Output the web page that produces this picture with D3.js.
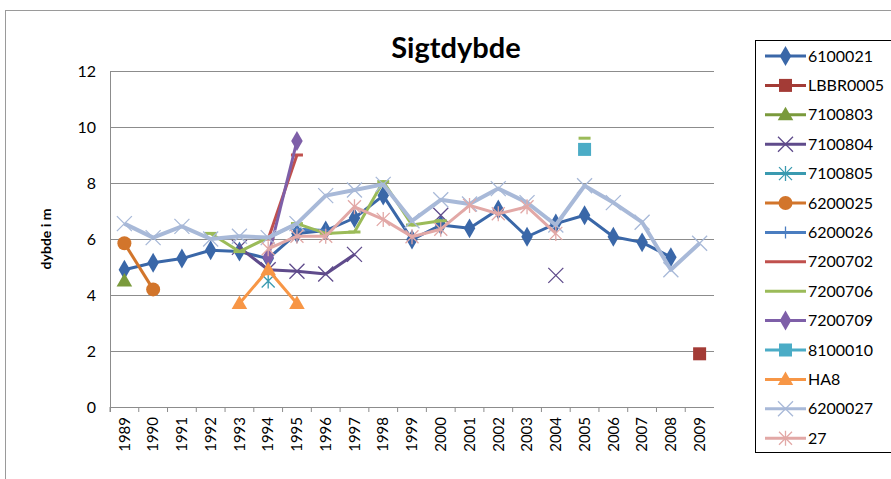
<!DOCTYPE html>
<html>
<head>
<meta charset="utf-8">
<script src="https://cdn.jsdelivr.net/npm/d3@7"></script>
<style>
  body { margin: 0; background: #fff; }
  text { font-family: Lato, "Open Sans", sans-serif; }
</style>
</head>
<body>
<div id="chart"></div>
<script>
// years on the x axis
var years = [1989, 1990, 1991, 1992, 1993, 1994, 1995, 1996, 1997, 1998, 1999,
             2000, 2001, 2002, 2003, 2004, 2005, 2006, 2007, 2008, 2009];
var yTicks = [0, 2, 4, 6, 8, 10, 12];

// one array per station, same order as years, null = no measurement
var s6100021 = [4.9, 5.15, 5.3, 5.6, 5.55, 5.3, 6.2, 6.3, 6.75, 7.55, 5.98, 6.5, 6.38, 7.05, 6.08, 6.55, 6.85, 6.08, 5.88, 5.35, null];
var sLBBR0005 = [null, null, null, null, null, null, null, null, null, null, null, null, null, null, null, null, null, null, null, null, 1.9];
var s7100803 = [4.5, null, null, null, null, null, null, null, null, null, null, null, null, null, null, null, null, null, null, null, null];
var s7100804 = [null, null, null, null, 5.7, 4.9, 4.85, 4.75, 5.45, null, null, 6.85, null, null, null, 4.7, null, null, null, null, null];
var s7100805 = [null, null, null, null, null, 4.5, null, null, null, null, null, null, null, null, null, null, null, null, null, null, null];
var s6200025 = [5.85, 4.2, null, null, null, null, null, null, null, null, null, null, null, null, null, null, null, null, null, null, null];
var s6200026 = [null, null, null, null, null, null, 6.35, 6.3, null, null, null, null, null, null, null, null, null, null, null, null, null];
var s7200702 = [null, null, null, null, null, 6.0, 9.0, null, null, null, null, null, null, null, null, null, null, null, null, null, null];
var s7200706 = [null, null, null, 6.2, 5.55, 6.05, 6.55, 6.2, 6.25, 8.05, 6.5, 6.65, null, null, null, null, 9.6, null, null, null, null];
var s7200709 = [null, null, null, null, null, 5.35, 9.5, null, null, null, null, null, null, null, null, null, null, null, null, null, null];
var s8100010 = [null, null, null, null, null, null, null, null, null, null, null, null, null, null, null, null, 9.2, null, null, null, null];
var sHA8 = [null, null, null, null, 3.7, 4.9, 3.7, null, null, null, null, null, null, null, null, null, null, null, null, null, null];
var s6200027 = [6.55, 6.05, 6.45, 6.0, 6.1, 6.05, 6.55, 7.55, 7.75, 7.95, 6.65, 7.4, 7.25, 7.8, 7.3, 6.5, 7.9, 7.3, 6.6, 4.9, 5.85];
var s27 = [null, null, null, null, null, 5.65, 6.1, 6.1, 7.15, 6.7, 6.08, 6.35, 7.2, 6.9, 7.15, 6.2, null, null, null, null, null];

var names = ["6100021", "LBBR0005", "7100803", "7100804", "7100805", "6200025", "6200026",
             "7200702", "7200706", "7200709", "8100010", "HA8", "6200027", "27"];
var values = [s6100021, sLBBR0005, s7100803, s7100804, s7100805, s6200025, s6200026,
              s7200702, s7200706, s7200709, s8100010, sHA8, s6200027, s27];
var colors = ["#3A67A8", "#A33B36", "#7A9A3C", "#5F4B8B", "#3A9AB0", "#D2752B", "#4A7DC0",
              "#C0504D", "#9BBB59", "#7E5FA8", "#4BACC6", "#F79646", "#A8B9D8", "#E2A8A6"];
var markers = ["diamond", "square", "triangle", "cross", "star", "circle", "plus",
               "dash", "dash", "diamond", "square", "triangle", "cross", "star"];

var width = 891, height = 479;
var margin = {left: 110, top: 71, right: 177, bottom: 72};

var svg = d3.select("#chart").append("svg")
    .attr("width", width)
    .attr("height", height);

// outer chart border
svg.append("rect")
    .attr("x", 5.5).attr("y", 10.5)
    .attr("width", 900).attr("height", 500)
    .style("fill", "#fff")
    .style("stroke", "#9a9a9a")
    .style("stroke-width", 1);

var x = d3.scaleBand()
    .domain(years)
    .range([margin.left, width - margin.right]);
var y = d3.scaleLinear()
    .domain([0, 12])
    .range([height - margin.bottom, margin.top]);

// gridlines
svg.append("g").selectAll("line")
    .data(yTicks)
    .enter().append("line")
    .attr("x1", margin.left).attr("x2", width - margin.right)
    .attr("y1", function (d) { return Math.round(y(d)) + 0.5; })
    .attr("y2", function (d) { return Math.round(y(d)) + 0.5; })
    .style("stroke", "#8c8c8c")
    .style("stroke-width", 1);

// left axis line
svg.append("line")
    .attr("x1", margin.left + 0.5).attr("x2", margin.left + 0.5)
    .attr("y1", margin.top).attr("y2", height - margin.bottom + 5)
    .style("stroke", "#8c8c8c");

// y tick labels
var yAxis = svg.append("g")
    .attr("transform", "translate(" + margin.left + ",0)")
    .call(d3.axisLeft(y).tickValues(yTicks).tickSize(0).tickPadding(14));
yAxis.select(".domain").remove();
yAxis.selectAll("text")
    .attr("font-size", 16)
    .attr("font-family", "Lato, sans-serif")
    .style("fill", "#000");

// x tick labels
var xAxis = svg.append("g")
    .attr("transform", "translate(0," + (height - margin.bottom) + ")")
    .call(d3.axisBottom(x).tickSize(5).tickSizeOuter(0));
xAxis.select(".domain").remove();
xAxis.selectAll("line").style("stroke", "#8c8c8c")
    .attr("transform", function () { return "translate(" + (-x.bandwidth() / 2) + ",0)"; });
xAxis.selectAll("text")
    .attr("font-size", 15)
    .attr("font-family", "Lato, sans-serif")
    .style("fill", "#000")
    .attr("text-anchor", "end")
    .attr("transform", "rotate(-90)")
    .attr("x", -10)
    .attr("y", 0)
    .attr("dy", "0.35em");

// title
svg.append("text")
    .attr("x", 456).attr("y", 58)
    .attr("text-anchor", "middle")
    .attr("font-size", 29)
    .attr("font-weight", "bold")
    .text("Sigtdybde");

// y axis title
svg.append("text")
    .attr("transform", "translate(51,239) rotate(-90)")
    .attr("text-anchor", "middle")
    .attr("font-size", 14)
    .attr("font-weight", "bold")
    .attr("font-family", "'Open Sans', sans-serif")
    .text("dybde i m");

function cx(i) { return x(years[i]) + x.bandwidth() / 2; }

var line = d3.line()
    .defined(function (d) { return d != null; })
    .x(function (d, i) { return cx(i); })
    .y(function (d) { return y(d); });

function drawMarker(g, type, color, px, py) {
    if (type === "diamond") {
        g.append("path").attr("d", d3.symbol().type(d3.symbolDiamond).size(115)())
            .attr("transform", "translate(" + px + "," + py + ")").style("fill", color);
    } else if (type === "square") {
        g.append("rect").attr("x", px - 6.5).attr("y", py - 6.5).attr("width", 13).attr("height", 13)
            .style("fill", color);
    } else if (type === "triangle") {
        g.append("path").attr("d", d3.symbol().type(d3.symbolTriangle).size(105)())
            .attr("transform", "translate(" + px + "," + (py + 1) + ")").style("fill", color);
    } else if (type === "circle") {
        g.append("circle").attr("cx", px).attr("cy", py).attr("r", 7).style("fill", color);
    } else if (type === "cross") {
        g.append("path").attr("d", "M-7.5,-7.5L7.5,7.5M-7.5,7.5L7.5,-7.5")
            .attr("transform", "translate(" + px + "," + py + ")")
            .style("stroke", color).style("stroke-width", 1.3).style("fill", "none");
    } else if (type === "star") {
        g.append("path").attr("d", "M-6.5,-6.5L6.5,6.5M-6.5,6.5L6.5,-6.5M0,-7.5L0,7.5")
            .attr("transform", "translate(" + px + "," + py + ")")
            .style("stroke", color).style("stroke-width", 1.3).style("fill", "none");
    } else if (type === "plus") {
        g.append("path").attr("d", "M-6,0L6,0M0,-6L0,6")
            .attr("transform", "translate(" + px + "," + py + ")")
            .style("stroke", color).style("stroke-width", 1.3).style("fill", "none");
    } else if (type === "dash") {
        g.append("rect").attr("x", px - 6).attr("y", py - 1.5).attr("width", 12).attr("height", 3)
            .style("fill", color);
    }
}

// series
var seriesG = svg.append("g");
values.forEach(function (vals, k) {
    var g = seriesG.append("g");
    g.append("path")
        .datum(vals)
        .attr("d", line)
        .style("fill", "none")
        .style("stroke", colors[k])
        .style("stroke-width", names[k] === "6200027" ? 4 : 3)
        .style("stroke-linejoin", "round");
    vals.forEach(function (v, i) {
        if (v == null) return;
        drawMarker(g, markers[k], colors[k], cx(i), y(v));
    });
});

// legend
var legend = svg.append("g");
legend.append("rect")
    .attr("x", 755.5).attr("y", 40.5)
    .attr("width", 160).attr("height", 412)
    .style("fill", "#fff")
    .style("stroke", "#000")
    .style("stroke-width", 1);
names.forEach(function (n, k) {
    var ly = 56 + k * 29.4;
    var g = legend.append("g");
    g.append("line")
        .attr("x1", 765).attr("x2", 806)
        .attr("y1", ly).attr("y2", ly)
        .style("stroke", colors[k])
        .style("stroke-width", 3);
    if (markers[k] !== "dash") drawMarker(g, markers[k], colors[k], 785.5, ly);
    g.append("text")
        .attr("x", 808).attr("y", ly)
        .attr("dy", "0.35em")
        .attr("font-size", 16)
        .text(n);
});
</script>
</body>
</html>
